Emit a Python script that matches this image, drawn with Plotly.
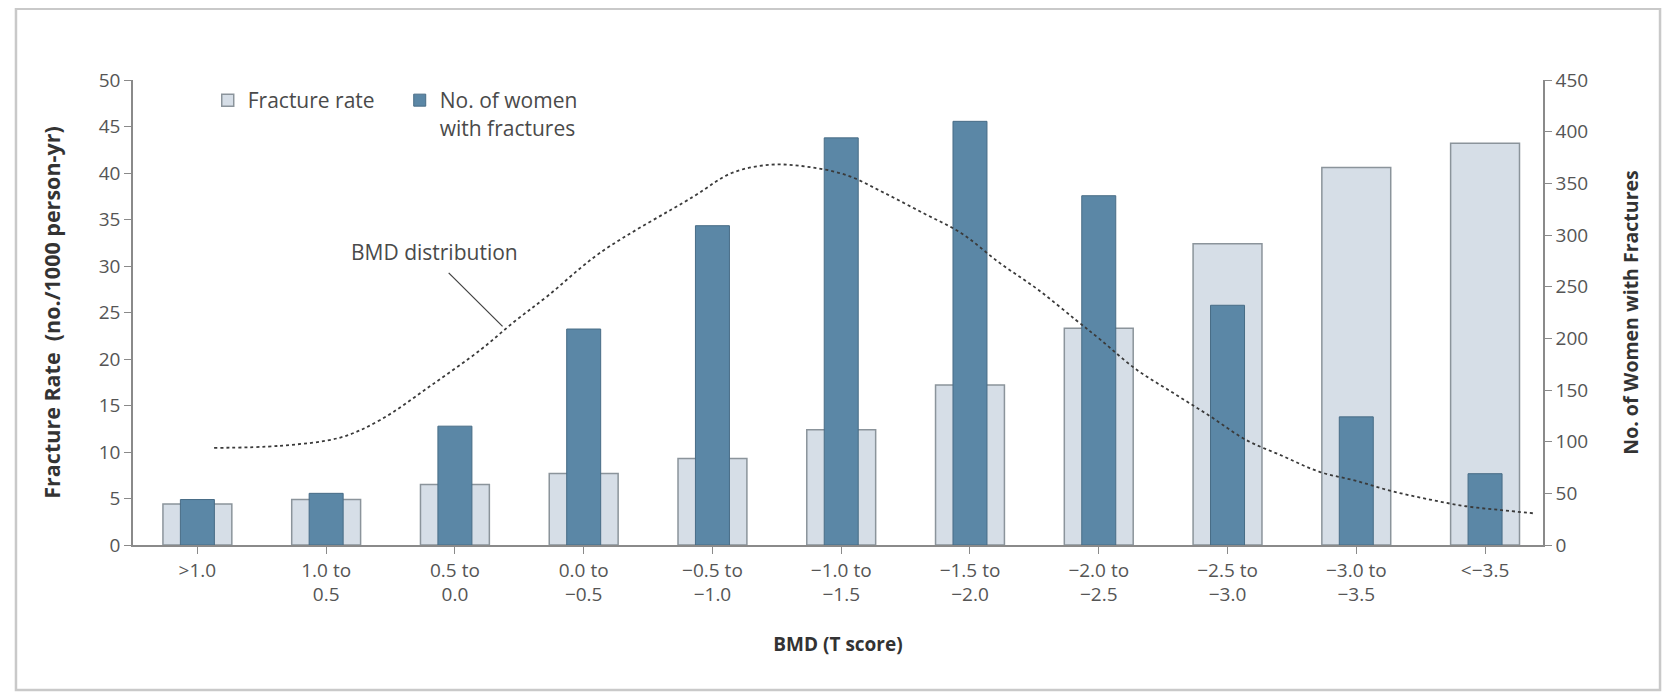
import plotly.graph_objects as go

# ---------------- data ----------------
categories = [">1.0", "1.0 to<br>0.5", "0.5 to<br>0.0", "0.0 to<br>\u22120.5",
              "\u22120.5 to<br>\u22121.0", "\u22121.0 to<br>\u22121.5", "\u22121.5 to<br>\u22122.0",
              "\u22122.0 to<br>\u22122.5", "\u22122.5 to<br>\u22123.0", "\u22123.0 to<br>\u22123.5",
              "&lt;\u22123.5"]
fracture_rate = [4.4, 4.9, 6.5, 7.7, 9.3, 12.4, 17.2, 23.3, 32.4, 40.6, 43.2]
women_with_fractures = [44, 50, 115, 209, 309, 394, 410, 338, 232, 124, 69]

# BMD distribution curve (x in category units, y on right-axis scale)
bmd_x = [0.13, 0.64, 1.11, 1.42, 1.81, 2.20, 2.46, 2.72, 3.13, 3.85, 4.15, 4.45, 4.74,
         5.04, 5.33, 5.64, 5.93, 6.23, 6.53, 6.82, 7.01, 7.29, 7.58, 7.86, 8.14, 8.43,
         8.71, 9.00, 9.28, 9.57, 9.85, 10.13, 10.39]
bmd_y = [94, 96, 104, 121, 154, 189, 216, 241, 283, 337, 360, 368, 366,
         358, 341, 321, 302, 273, 247, 218, 199, 170, 147, 125, 102, 86,
         71, 62, 52, 44, 37.5, 33.7, 30.5]

left_ticks = [0, 5, 10, 15, 20, 25, 30, 35, 40, 45, 50]
right_ticks = [0, 50, 100, 150, 200, 250, 300, 350, 400, 450]

xpos = list(range(len(categories)))

FONT = "'Open Sans', Lato, sans-serif"
LIGHT = "#d6dee7"
LIGHT_LINE = "#8b949b"
DARK = "#5b87a6"
DARK_LINE = "#486c86"
AXIS = "#8a8a8a"
TXT = "#4a4a4a"
TICK = "#555555"

fig = go.Figure()

fig.add_trace(go.Bar(
    x=xpos, y=fracture_rate, name="Fracture rate", yaxis="y",
    width=0.535, marker=dict(color=LIGHT, line=dict(color=LIGHT_LINE, width=1.5)),
))
fig.add_trace(go.Bar(
    x=xpos, y=women_with_fractures, name="No. of women<br>with fractures", yaxis="y2",
    width=0.264, marker=dict(color=DARK, line=dict(color=DARK_LINE, width=1)),
))
fig.add_trace(go.Scatter(
    x=bmd_x, y=bmd_y, yaxis="y2", mode="lines", showlegend=False,
    line=dict(color="#3a3a3a", width=1.8, dash="dot", shape="spline", smoothing=1.0),
    hoverinfo="skip",
))

# the page body has an 8px margin: figure is shrunk by 8px and margins shifted accordingly
fig.update_layout(
    width=1665, height=685,
    margin=dict(l=125, r=130, t=72, b=148),
    paper_bgcolor="white", plot_bgcolor="white",
    barmode="overlay",
    font=dict(family=FONT, size=19, color=TXT),
    xaxis=dict(
        range=[-0.5, 10.45], tickmode="array", tickvals=xpos, ticktext=categories,
        showline=True, linecolor=AXIS, linewidth=1.5, ticks="outside", ticklen=7,
        tickcolor=AXIS, showgrid=False, zeroline=False,
        tickfont=dict(size=19, color=TICK),
        title=dict(text="<b>BMD (T score)</b>", font=dict(size=19, color="#333333"), standoff=31),
    ),
    yaxis=dict(
        range=[0, 50], tickmode="array", tickvals=left_ticks,
        showline=True, linecolor=AXIS, linewidth=1.5, ticks="outside", ticklen=7,
        tickcolor=AXIS, showgrid=False, zeroline=False,
        tickfont=dict(size=19, color=TICK),
        title=dict(text="<b>Fracture Rate \u00a0(no./1000 person-yr)</b>",
                   font=dict(size=21.5, color="#333333"), standoff=32),
    ),
    yaxis2=dict(
        range=[0, 450], tickmode="array", tickvals=right_ticks,
        overlaying="y", side="right",
        showline=True, linecolor=AXIS, linewidth=1.5, ticks="outside", ticklen=7,
        tickcolor=AXIS, showgrid=False, zeroline=False,
        tickfont=dict(size=19, color=TICK),
        title=dict(text="<b>No. of Women with Fractures</b>",
                   font=dict(size=19.5, color="#333333"), standoff=37),
    ),
    legend=dict(
        orientation="h", x=0.053, y=1.0, xanchor="left", yanchor="top",
        bgcolor="rgba(0,0,0,0)", font=dict(size=21, color=TXT),
        valign="top", itemwidth=30, traceorder="normal", entrywidth=147,
    ),
    annotations=[
        dict(x=1.84, y=284, xref="x", yref="y2", text="BMD distribution",
             showarrow=False, font=dict(size=21, color=TXT)),
        dict(x=2.37, y=211.6, xref="x", yref="y2", ax=1.94, ay=264.8,
             axref="x", ayref="y2", text="", showarrow=True, arrowhead=0,
             arrowwidth=1.3, arrowcolor="#444444"),
    ],
    shapes=[
        dict(type="rect", xref="paper", yref="paper",
             x0=-0.083, x1=1.083, y0=-0.312, y1=1.153,
             line=dict(color="#c9c9c9", width=2.5), fillcolor="rgba(0,0,0,0)", layer="below"),
    ],
)

fig.write_html("out.html")
